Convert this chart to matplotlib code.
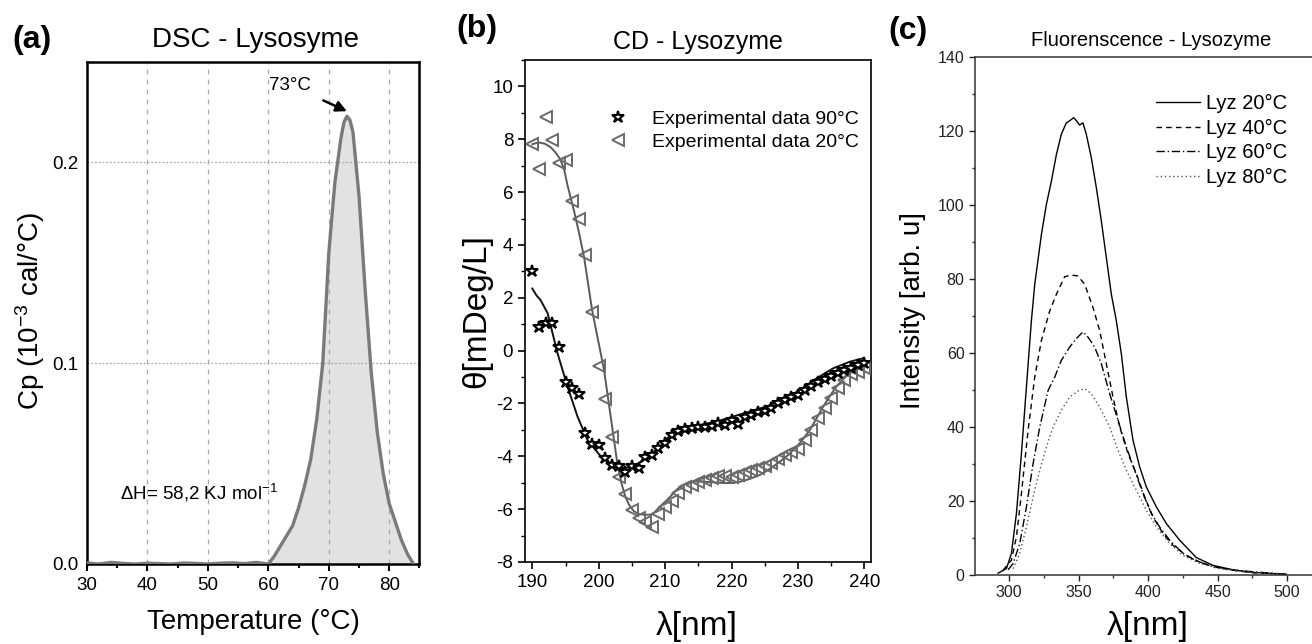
import matplotlib
matplotlib.use("Agg")
import matplotlib.pyplot as plt
from matplotlib.ticker import MultipleLocator, FixedLocator

plt.rcParams['font.family'] = ['Liberation Sans', 'DejaVu Sans']
plt.rcParams['mathtext.fontset'] = 'custom'
plt.rcParams['mathtext.rm'] = 'Liberation Sans'
plt.rcParams['mathtext.default'] = 'regular'
plt.rcParams['axes.unicode_minus'] = False

# ---------------- (a) DSC data ----------------
dsc_T_base = [30, 32, 34, 36, 38, 40, 42, 44, 46, 48, 50, 52, 54, 56, 58]
dsc_cp_base = [0.0005, 0.0, 0.0008, 0.0003, 0.0, 0.0004, 0.0002, 0.0,
               0.0005, 0.0003, 0.0, 0.0004, 0.0006, 0.0002, 0.0008]
dsc_T = [60, 61, 62, 63, 64, 65, 66, 67, 68, 69, 70, 71, 72, 72.5, 73,
         73.5, 74, 75, 76, 77, 78, 79, 80, 81, 82, 83, 84]
dsc_cp = [0.0, 0.004, 0.009, 0.014, 0.019, 0.028, 0.039, 0.052, 0.072,
          0.100, 0.155, 0.190, 0.212, 0.220, 0.223, 0.221, 0.215, 0.183,
          0.137, 0.096, 0.066, 0.045, 0.030, 0.021, 0.012, 0.005, 0.0]
dsc_xticks = [30, 40, 50, 60, 70, 80]
dsc_yticks = [0.0, 0.1, 0.2]

# ---------------- (b) CD data ----------------
cd_wl = list(range(190, 241))
cd_20 = [7.81, 6.88, 8.84, 7.96, 7.09, 7.22, 5.66, 4.98, 3.61, 1.45,
         -0.58, -1.84, -3.27, -4.79, -5.42, -6.02, -6.33, -6.49, -6.68, -6.17,
         -5.92, -5.68, -5.39, -5.18, -5.08, -4.99, -4.89, -4.82, -4.76, -4.74,
         -4.79, -4.70, -4.61, -4.53, -4.45, -4.36, -4.26, -4.11, -3.94, -3.82,
         -3.73, -3.38, -3.00, -2.56, -2.18, -1.80, -1.42, -1.11, -0.89, -0.79,
         -0.67]
cd_90 = [3.0, 0.91, 1.03, 1.06, 0.13, -1.20, -1.42, -1.64, -3.12, -3.53,
         -3.56, -4.07, -4.32, -4.38, -4.60, -4.35, -4.45, -4.03, -3.94, -3.69,
         -3.48, -3.19, -3.06, -2.97, -2.93, -2.90, -2.90, -2.87, -2.75, -2.81,
         -2.62, -2.77, -2.52, -2.43, -2.34, -2.27, -2.18, -1.99, -1.86, -1.74,
         -1.67, -1.49, -1.34, -1.17, -1.08, -0.96, -0.86, -0.73, -0.67, -0.54,
         -0.45]
fit20_wl = [190.0, 190.6, 191.25, 192.0, 192.8, 193.5, 194.2, 194.8, 195.3,
            196.3, 197.0, 197.8, 199.0, 200.8, 201.8, 202.8, 203.4, 204.0,
            204.6, 205.3, 206.0, 206.8, 207.8, 208.4, 209.0, 210.0, 210.8,
            211.5, 212.3, 213.3, 214.3, 216.3, 218.8, 220.3, 221.3, 222.3,
            223.3, 224.3, 225.3, 226.3, 227.3, 228.3, 229.3, 230.3, 231.8,
            232.8, 233.8, 234.8, 235.8, 236.8, 237.8, 239.0, 240.0]
fit20_th = [7.81, 7.86, 7.87, 7.82, 7.69, 7.50, 7.25, 6.85, 6.26,
            5.27, 4.50, 3.53, 1.54, -0.73, -2.49, -4.26, -5.00, -5.52,
            -5.85, -6.08, -6.18, -6.21, -6.21, -6.12, -5.96, -5.72, -5.52,
            -5.32, -5.14, -5.02, -4.95, -4.97, -5.01, -5.01, -4.96, -4.89,
            -4.80, -4.70, -4.55, -4.38, -4.20, -4.00, -3.76, -3.50, -3.00,
            -2.56, -2.12, -1.72, -1.36, -1.08, -0.86, -0.70, -0.60]
fit90_wl = [190.0, 190.6, 191.25, 192.3, 192.8, 193.8, 195.3, 196.8, 198.3,
            200.3, 202.3, 203.8, 205.3, 206.8, 208.8, 210.8, 212.8, 215.3,
            217.8, 220.3, 222.8, 225.3, 227.8, 230.3, 232.8, 235.3, 237.8,
            239.8]
fit90_th = [2.35, 2.10, 1.91, 1.42, 0.91, -0.10, -1.36, -2.49, -3.38,
            -4.00, -4.38, -4.45, -4.38, -4.13, -3.75, -3.19, -2.93, -2.81,
            -2.68, -2.49, -2.30, -2.11, -1.86, -1.49, -1.05, -0.67, -0.42,
            -0.29]
cd_labels = ['Experimental data 90°C', 'Experimental data 20°C']

# ---------------- (c) Fluorescence data ----------------
fl20_x = [292.1, 298.1, 301.7, 305.3, 308.9, 312.5, 316.1, 318.5, 323.3,
          326.9, 330.5, 334.1, 337.6, 341.2, 343.0, 344.8, 346.5, 348.4,
          350.8, 353.2, 355.6, 359.2, 362.8, 366.4, 370.0, 373.6, 377.2,
          380.8, 384.4, 389.2, 394.0, 398.8, 406.0, 413.2, 422.8, 434.8,
          446.8, 461.2, 475.5, 499.5]
fl20_y = [0.5, 1.7, 5.8, 16.6, 32.8, 50.8, 68.8, 78.6, 92.1,
          100.2, 106.5, 113.7, 119.1, 122.2, 122.6, 123.1, 123.6, 122.8,
          121.6, 122.2, 119.1, 112.8, 104.7, 95.7, 85.8, 75.9, 68.7,
          59.8, 48.1, 36.4, 29.2, 23.8, 18.4, 13.9, 9.4, 4.7,
          2.6, 1.4, 0.7, 0.2]
fl40_x = [295.7, 301.7, 305.3, 308.9, 313.7, 318.5, 323.3, 329.3, 334.1,
          340.0, 344.8, 349.6, 354.4, 360.4, 365.2, 370.0, 374.8, 379.6,
          385.6, 391.6, 397.6, 403.6, 410.8, 418.0, 427.6, 437.2, 446.8,
          461.2, 475.5, 499.5]
fl40_y = [1.3, 4.0, 10.3, 22.0, 39.1, 53.5, 63.4, 71.4, 75.9,
          80.6, 81.1, 80.8, 78.6, 72.3, 66.1, 57.1, 48.1, 40.0,
          32.8, 27.4, 21.1, 15.7, 11.2, 8.0, 5.3, 3.5, 2.2,
          1.3, 0.6, 0.2]
fl60_x = [299.3, 302.9, 307.7, 312.5, 317.3, 322.1, 328.1, 332.9, 337.6,
          343.6, 348.4, 353.2, 356.8, 361.6, 366.4, 372.4, 378.4, 384.4,
          390.4, 396.4, 402.4, 408.3, 415.6, 425.2, 434.8, 446.8, 461.2,
          499.5]
fl60_y = [1.4, 3.1, 8.5, 18.4, 30.1, 40.0, 49.9, 53.5, 58.0,
          61.6, 63.9, 65.7, 64.3, 61.6, 57.1, 49.0, 41.8, 34.6,
          28.3, 22.0, 16.6, 13.0, 9.4, 5.8, 3.8, 2.3, 1.3,
          0.2]
fl80_x = [302.9, 307.7, 312.5, 317.3, 322.1, 326.9, 331.7, 337.6, 343.6,
          349.6, 354.4, 359.2, 365.2, 372.4, 378.4, 384.4, 391.6, 398.8,
          406.0, 415.6, 425.2, 437.2, 451.6, 470.8, 499.5]
fl80_y = [1.7, 5.8, 13.0, 21.1, 28.3, 34.6, 40.0, 44.5, 48.1,
          49.7, 50.4, 49.0, 45.4, 40.0, 33.7, 28.3, 22.9, 17.5,
          13.0, 8.5, 5.3, 3.1, 1.7, 0.8, 0.2]
fl_labels = ['Lyz 20°C', 'Lyz 40°C', 'Lyz 60°C', 'Lyz 80°C']

W, H = 1312, 644
fig = plt.figure(figsize=(W / 100, H / 100), dpi=100)


def rect(l, r, t, b):
    return [l / W, 1 - b / H, (r - l) / W, (b - t) / H]


# ================= (a) =================
axa = fig.add_axes(rect(87, 419.5, 62, 564))
axa.fill_between(dsc_T, dsc_cp, 0, color='#e2e2e2', zorder=1, lw=0)
axa.plot(dsc_T_base + dsc_T, dsc_cp_base + dsc_cp, color='#7a7a7a', lw=2.4,
         zorder=3)
axa.set_xlim(30, 85)
axa.set_ylim(0, 0.25)
axa.xaxis.set_major_locator(FixedLocator(dsc_xticks))
axa.xaxis.set_minor_locator(MultipleLocator(5))
axa.yaxis.set_major_locator(FixedLocator(dsc_yticks))
axa.set_yticklabels(['0.0', '0.1', '0.2'])
for xv in dsc_xticks[1:]:
    axa.axvline(xv, color='#aaaaaa', lw=0.9, ls=(0, (4, 4)), zorder=2)
for yv in dsc_yticks[1:]:
    axa.axhline(yv, color='#aaaaaa', lw=0.9, ls=(0, (1.5, 1.5)), zorder=2)
for s in axa.spines.values():
    s.set_linewidth(1.8)
    s.set_color('black')
axa.tick_params(axis='x', which='major', direction='out', length=5, width=1.5,
                labelsize=13.5, pad=4)
axa.tick_params(axis='x', which='minor', direction='out', length=3, width=1.5)
axa.tick_params(axis='y', which='major', length=0, labelsize=13.5, pad=6)
axa.annotate('73°C', xy=(73.0, 0.2255), xytext=(63.5, 0.2385),
             ha='center', va='center', fontsize=13.5,
             arrowprops=dict(arrowstyle='-|>', color='black', lw=1.8,
                             mutation_scale=16, shrinkA=8, shrinkB=0))
axa.text(35.5, 0.0355, 'ΔH= 58,2 KJ mol$^{-1}$', fontsize=13.5,
         ha='left', va='center')

# ================= (b) =================
axb = fig.add_axes(rect(525, 871, 60, 562))
axb.plot(fit90_wl, fit90_th, color='#111111', lw=1.4, zorder=2)
axb.plot(fit20_wl, fit20_th, color='#5a5a5a', lw=1.4, zorder=2)
axb.plot(cd_wl, cd_90, ls='none', marker='*', ms=9, mfc='white',
         mec='black', mew=1.5, zorder=4, label=cd_labels[0])
axb.plot(cd_wl, cd_20, ls='none', marker='<', ms=8, mfc='none',
         mec='#6a6a6a', mew=1.4, zorder=3, label=cd_labels[1])
axb.set_xlim(188.9, 241)
axb.set_ylim(-8, 11)
axb.xaxis.set_major_locator(MultipleLocator(10))
axb.xaxis.set_minor_locator(MultipleLocator(5))
axb.yaxis.set_major_locator(FixedLocator([-8, -6, -4, -2, 0, 2, 4, 6, 8, 10]))
axb.yaxis.set_minor_locator(MultipleLocator(1))
for s in axb.spines.values():
    s.set_linewidth(1.2)
axb.tick_params(which='major', direction='out', length=5, width=1.2,
                labelsize=13.5)
axb.tick_params(which='minor', direction='out', length=3, width=1.0)
axb.legend(loc='upper left', bbox_to_anchor=(0.205, 0.915), frameon=False,
           fontsize=14, handletextpad=1.0, labelspacing=0.25,
           borderaxespad=0, handlelength=1.5)

# ================= (c) =================
axc = fig.add_axes(rect(975, 1312, 57, 575))
axc.plot(fl20_x, fl20_y, color='black', lw=1.0, ls='-', label=fl_labels[0])
axc.plot(fl40_x, fl40_y, color='black', lw=1.0, ls=(0, (4, 3)),
         label=fl_labels[1])
axc.plot(fl60_x, fl60_y, color='black', lw=1.0, ls=(0, (6, 2, 1, 2)),
         label=fl_labels[2])
axc.plot(fl80_x, fl80_y, color='#555555', lw=1.0, ls=(0, (1, 2)),
         label=fl_labels[3])
axc.set_xlim(275.5, 518)
axc.set_ylim(0, 140)
axc.xaxis.set_major_locator(MultipleLocator(50))
axc.xaxis.set_minor_locator(MultipleLocator(25))
axc.yaxis.set_major_locator(MultipleLocator(20))
axc.yaxis.set_minor_locator(MultipleLocator(10))
for s in axc.spines.values():
    s.set_linewidth(1.1)
    s.set_color('#333333')
axc.spines['right'].set_visible(False)
axc.tick_params(which='major', direction='out', length=4, width=1.0,
                labelsize=11.5, colors='#222222')
axc.tick_params(which='minor', direction='out', length=2.5, width=1.0,
                colors='#333333')
axc.legend(loc='upper left', bbox_to_anchor=(0.513, 0.944), frameon=False,
           fontsize=14.5, handlelength=2.2, handletextpad=0.3,
           labelspacing=0.27, borderaxespad=0)

# ================= texts =================
fig.text(12 / W, 1 - 40 / H, '(a)', fontsize=23, fontweight='bold',
         ha='left', va='center')
fig.text(456 / W, 1 - 29 / H, '(b)', fontsize=23, fontweight='bold',
         ha='left', va='center')
fig.text(888 / W, 1 - 31 / H, '(c)', fontsize=23, fontweight='bold',
         ha='left', va='center')

fig.text(256 / W, 1 - 40 / H, 'DSC - Lysosyme', fontsize=20,
         ha='center', va='center')
fig.text(698 / W, 1 - 42 / H, 'CD - Lysozyme', fontsize=18,
         ha='center', va='center')
fig.text(1151 / W, 1 - 40 / H, 'Fluorenscence - Lysozyme', fontsize=14.5,
         ha='center', va='center')

fig.text(30 / W, 1 - 311 / H, 'Cp (10$^{-3}$ cal/°C)', fontsize=20,
         rotation=90, ha='center', va='center')
fig.text(477 / W, 1 - 311 / H, 'θ[mDeg/L]', fontsize=24,
         rotation=90, ha='center', va='center')
fig.text(913 / W, 1 - 310 / H, 'Intensity [arb. u]', fontsize=20,
         rotation=90, ha='center', va='center')

fig.text(253 / W, 1 - 622 / H, 'Temperature (°C)', fontsize=20,
         ha='center', va='center')
fig.text(697 / W, 1 - 626 / H, 'λ[nm]', fontsize=24,
         ha='center', va='center')
fig.text(1148 / W, 1 - 626 / H, 'λ[nm]', fontsize=24,
         ha='center', va='center')

fig.savefig('out.png', dpi=100)
